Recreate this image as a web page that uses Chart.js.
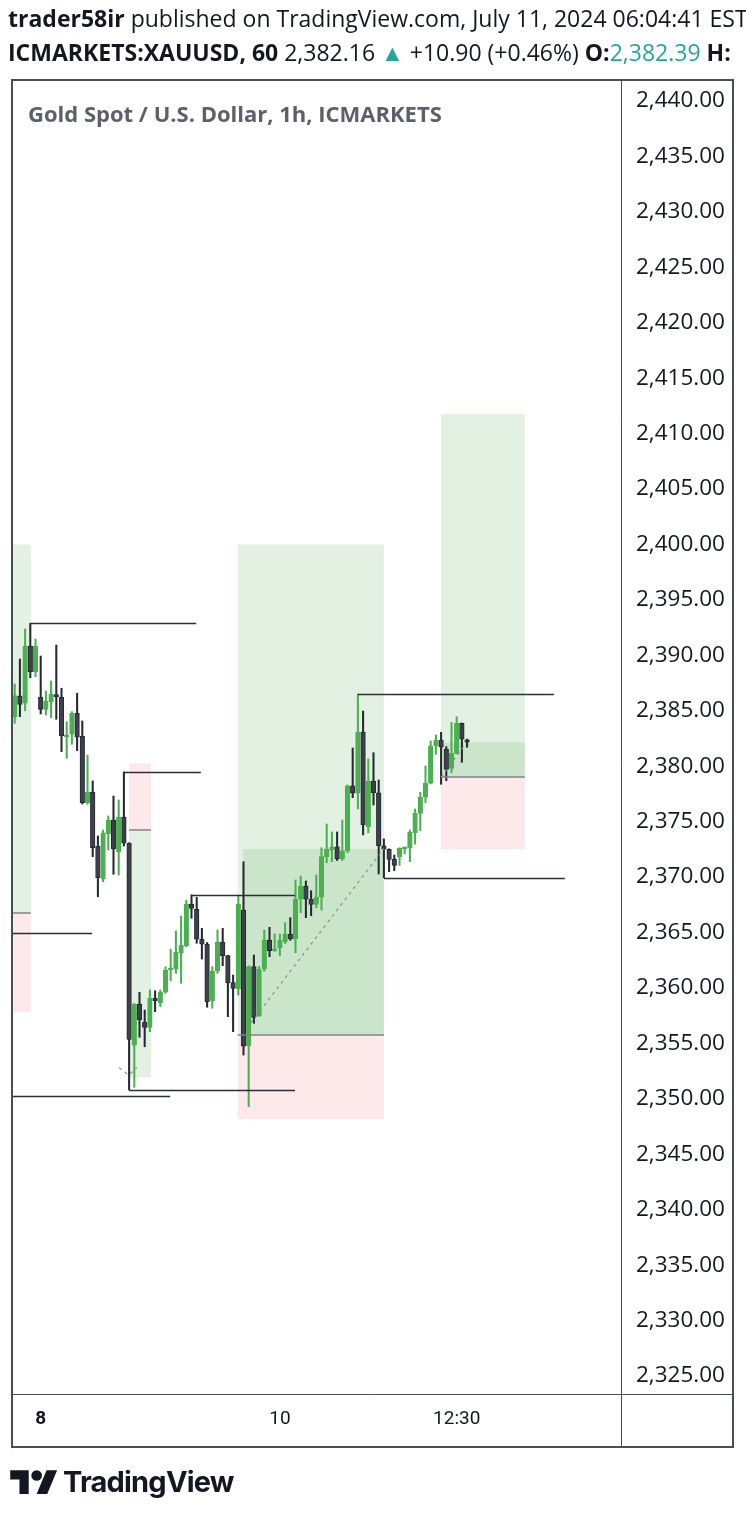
<!DOCTYPE html>
<html>
<head>
<meta charset="utf-8">
<script src="https://cdn.jsdelivr.net/npm/chart.js@4.4.1/dist/chart.umd.min.js"></script>
<style>
  body { margin: 0; background: #fff; width: 746px; height: 1517px; overflow: hidden; position: relative;
         font-family: 'Open Sans', sans-serif; color: #131722; }
  #wrap { position: absolute; left: 0; top: 0; width: 746px; height: 1517px; }
  .hdr { position: absolute; left: 8px; white-space: nowrap; font-size: 23px; line-height: 30px; }
  .up { color: #26a69a; }
  #title { position: absolute; left: 28px; top: 98px; font-size: 22px; line-height: 30px; font-weight: 700; color: #5d606b; white-space: nowrap; }
  #logo { position: absolute; left: 10px; top: 1465px; }
  #brand { position: absolute; left: 63px; top: 1464px; font-family: Inter, sans-serif; font-weight: 700;
           font-size: 29px; letter-spacing: -0.8px; color: #131722; }
</style>
</head>
<body>
<div id="wrap"><canvas id="chart"></canvas></div>
<div class="hdr" style="top:3px"><b>trader58ir</b> published on TradingView.com, July 11, 2024 06:04:41 EST</div>
<div class="hdr" style="top:37px"><b>ICMARKETS:XAUUSD, 60</b> 2,382.16 <span class="up">▲</span> +10.90 (+0.46%) <b>O:</b><span class="up">2,382.39</span> <b>H:</b></div>
<div id="title">Gold Spot / U.S. Dollar, 1h, ICMARKETS</div>
<svg id="logo" width="48" height="37" viewBox="0 0 36 28"><path fill="#131722" d="M14 22H7V11H0V4h14v18zM28 22h-8l7.5-18h8L28 22z"/><circle fill="#131722" cx="20" cy="8" r="4"/></svg>
<div id="brand">TradingView</div>

<script>
// ─── Candles (1h XAUUSD) ─────────────────────────
const opens = [
  2384.47, 2386.33, 2385.68, 2390.84, 2388.53, 2386.22, 2385.13, 2385.82, 2386.42, 2386.22,
  2382.66, 2382.88, 2384.77, 2382.70, 2376.71, 2377.65, 2372.80, 2369.85, 2373.89, 2375.15,
  2372.29, 2375.42, 2373.05, 2354.83, 2358.55, 2356.90, 2356.45, 2359.07, 2358.67, 2359.63,
  2361.62, 2361.71, 2363.13, 2363.81, 2367.57, 2367.09, 2364.39, 2363.94, 2358.85, 2361.53,
  2364.15, 2362.91, 2360.48, 2359.93, 2367.03, 2354.79, 2361.92, 2357.50, 2361.71, 2364.33,
  2363.36, 2363.63, 2364.17, 2364.87, 2364.42, 2368.02, 2369.20, 2368.00, 2367.54, 2368.20,
  2371.84, 2372.44, 2372.74, 2371.63, 2372.35, 2378.22, 2377.56, 2383.09, 2374.54, 2378.67,
  2377.61, 2372.83, 2372.51, 2371.60, 2371.84, 2372.56, 2372.65, 2374.00, 2375.75, 2377.20,
  2378.46, 2381.82, 2382.36, 2381.53, 2379.81, 2381.16, 2383.87, 2382.39
];
const highs = [
  2387.42, 2389.67, 2392.38, 2392.88, 2391.47, 2389.94, 2386.78, 2387.69, 2390.93, 2387.03,
  2384.01, 2384.92, 2386.58, 2384.08, 2381.01, 2378.67, 2373.71, 2374.25, 2375.51, 2377.31,
  2376.95, 2379.48, 2373.10, 2358.60, 2359.61, 2358.01, 2359.82, 2359.75, 2359.82, 2361.92,
  2363.49, 2365.14, 2366.49, 2367.93, 2368.40, 2368.18, 2365.38, 2364.10, 2361.92, 2365.23,
  2365.38, 2362.95, 2361.17, 2368.38, 2371.38, 2362.00, 2362.97, 2361.92, 2365.23, 2365.47,
  2364.87, 2364.87, 2365.89, 2366.34, 2369.74, 2370.10, 2369.65, 2368.77, 2370.19, 2372.65,
  2374.79, 2374.07, 2374.07, 2375.15, 2378.30, 2381.64, 2386.51, 2384.98, 2380.65, 2381.22,
  2378.76, 2373.44, 2372.55, 2371.99, 2372.65, 2372.69, 2374.25, 2376.14, 2377.65, 2380.02,
  2382.27, 2382.82, 2383.06, 2381.76, 2383.96, 2384.47, 2383.90, 2382.45
];
const lows = [
  2383.87, 2384.47, 2385.01, 2387.98, 2388.07, 2384.71, 2384.62, 2384.38, 2384.23, 2381.31,
  2380.71, 2381.98, 2381.40, 2376.59, 2376.57, 2371.84, 2368.23, 2369.58, 2372.44, 2370.25,
  2370.19, 2372.80, 2350.80, 2351.04, 2355.55, 2354.70, 2356.06, 2357.86, 2358.31, 2359.52,
  2360.65, 2361.32, 2360.42, 2363.72, 2366.28, 2364.03, 2362.61, 2358.26, 2358.17, 2361.32,
  2362.01, 2357.41, 2356.06, 2359.36, 2353.95, 2349.29, 2356.81, 2357.41, 2361.50, 2362.82,
  2363.30, 2362.91, 2364.00, 2364.30, 2363.18, 2366.79, 2366.34, 2366.52, 2367.24, 2367.03,
  2371.30, 2371.39, 2371.50, 2371.50, 2372.20, 2377.16, 2376.14, 2373.80, 2374.00, 2376.50,
  2370.28, 2369.95, 2370.49, 2370.58, 2371.06, 2372.08, 2371.39, 2372.98, 2374.18, 2376.71,
  2378.40, 2381.07, 2378.37, 2378.69, 2379.41, 2381.10, 2380.35, 2381.71
];
const closes = [
  2386.36, 2385.58, 2390.84, 2388.53, 2390.84, 2385.13, 2385.88, 2386.49, 2386.27, 2382.75,
  2382.73, 2384.80, 2382.61, 2376.71, 2377.65, 2372.65, 2369.94, 2374.00, 2375.15, 2372.56,
  2375.42, 2373.05, 2355.37, 2358.55, 2357.11, 2356.45, 2359.07, 2358.85, 2359.63, 2361.62,
  2361.71, 2363.22, 2363.85, 2367.57, 2367.18, 2364.39, 2363.94, 2358.76, 2361.53, 2364.15,
  2362.91, 2360.48, 2359.97, 2367.57, 2354.76, 2361.92, 2357.35, 2361.71, 2364.33, 2363.36,
  2363.51, 2364.33, 2364.87, 2364.42, 2368.02, 2369.20, 2368.00, 2367.54, 2368.20, 2371.84,
  2372.53, 2372.74, 2371.63, 2372.35, 2378.22, 2377.56, 2383.09, 2374.70, 2378.67, 2377.61,
  2372.83, 2372.51, 2371.60, 2371.06, 2372.60, 2372.65, 2374.07, 2375.75, 2377.20, 2378.46,
  2381.82, 2382.36, 2381.71, 2379.72, 2381.16, 2383.87, 2382.45, 2382.16
];

// ─── Axis ticks ──────────────────────────────────
const priceTicks = [2325, 2330, 2335, 2340, 2345, 2350, 2355, 2360, 2365, 2370, 2375, 2380,
                    2385, 2390, 2395, 2400, 2405, 2410, 2415, 2420, 2425, 2430, 2435, 2440];
const timeTickBars = [5, 51, 85];
const timeTickLabels = ['8', '10', '12:30'];

// ─── Position tools (bar index / price) ──────────
const boxStart = [-5, 22.0, 42.9, 82.0];
const boxEnd = [3.08, 26.2, 71.0, 98.1];
const boxEntry = [2366.73, 2374.25, 2355.73, 2379.00];
const boxTarget = [2400.0, 2351.94, 2400.0, 2411.77];
const boxStop = [2357.80, 2380.26, 2348.18, 2372.51];
const boxFillStart = [null, null, 43.9, 82.0];
const boxFillPrice = [null, null, 2372.53, 2382.16];

// ─── Horizontal levels ───────────────────────────
const levelPrice = [2392.88, 2379.48, 2364.96, 2350.25, 2350.80, 2368.40, 2386.51, 2369.95];
const levelFrom = [3, 21, -5, -5, 22, 34, 66, 71];
const levelTo = [34.9, 35.8, 14.9, 29.9, 53.9, 53.9, 103.7, 105.8];

// ─── Dashed trade paths ──────────────────────────
const pathBars = [[45.5, 71], [82, 86.7], [20.1, 21.9, 23.5]];
const pathPrices = [[2356.9, 2372.56], [2379.0, 2382.0], [2352.8, 2352.15, 2352.8]];

const UP = '#4caf50';
const DOWN = '#3d404b';
const DOWN_EDGE = '#262932';
const LIGHT_GREEN = '#e2f1e2';
const DARK_GREEN = '#cbe5ca';
const LIGHT_RED = '#fde8ea';
const FRAME = '#4a4d57';

const bars = opens.map((_, i) => i);
const isUp = i => closes[i] >= opens[i];

const overlays = {
  id: 'overlays',
  beforeDatasetsDraw(chart) {
    const { ctx, chartArea: a, scales: { x, y } } = chart;
    ctx.save();
    ctx.beginPath();
    ctx.rect(a.left, a.top, a.right - a.left, a.bottom - a.top);
    ctx.clip();
    boxStart.forEach((s, k) => {
      const x0 = x.getPixelForValue(s), x1 = x.getPixelForValue(boxEnd[k]);
      const yE = y.getPixelForValue(boxEntry[k]);
      const yT = y.getPixelForValue(boxTarget[k]);
      const yS = y.getPixelForValue(boxStop[k]);
      ctx.fillStyle = LIGHT_GREEN;
      ctx.fillRect(x0, Math.min(yE, yT), x1 - x0, Math.abs(yT - yE));
      ctx.fillStyle = LIGHT_RED;
      ctx.fillRect(x0, Math.min(yE, yS), x1 - x0, Math.abs(yS - yE));
      if (boxFillStart[k] !== null) {
        const f0 = x.getPixelForValue(boxFillStart[k]);
        const yF = y.getPixelForValue(boxFillPrice[k]);
        ctx.fillStyle = DARK_GREEN;
        ctx.fillRect(f0, Math.min(yE, yF), x1 - f0, Math.abs(yF - yE));
      }
    });
    ctx.restore();
  },
  afterDatasetsDraw(chart) {
    const { ctx, chartArea: a, scales: { x, y } } = chart;
    ctx.save();
    ctx.beginPath();
    ctx.rect(a.left, a.top, a.right - a.left, a.bottom - a.top);
    ctx.clip();
    // entry lines
    ctx.strokeStyle = '#80838d';
    ctx.lineWidth = 1.5;
    boxStart.forEach((s, k) => {
      const yE = Math.round(y.getPixelForValue(boxEntry[k]));
      ctx.beginPath();
      ctx.moveTo(x.getPixelForValue(s), yE);
      ctx.lineTo(x.getPixelForValue(boxEnd[k]), yE);
      ctx.stroke();
    });
    // horizontal levels
    ctx.strokeStyle = '#2a2e39';
    ctx.lineWidth = 1.3;
    levelPrice.forEach((p, k) => {
      const yy = Math.round(y.getPixelForValue(p)) + 0.5;
      ctx.beginPath();
      ctx.moveTo(x.getPixelForValue(levelFrom[k]), yy);
      ctx.lineTo(x.getPixelForValue(levelTo[k]), yy);
      ctx.stroke();
    });
    // dashed trade paths
    ctx.strokeStyle = '#8a8d96';
    ctx.lineWidth = 1.2;
    ctx.setLineDash([3, 4]);
    pathBars.forEach((xsArr, k) => {
      ctx.beginPath();
      xsArr.forEach((b, j) => {
        const px = x.getPixelForValue(b), py = y.getPixelForValue(pathPrices[k][j]);
        if (j === 0) ctx.moveTo(px, py); else ctx.lineTo(px, py);
      });
      ctx.stroke();
    });
    ctx.restore();
  },
  afterDraw(chart) {
    const { ctx, chartArea: a } = chart;
    ctx.save();
    ctx.strokeStyle = FRAME;
    ctx.lineWidth = 2;
    ctx.strokeRect(12, 80, 721, 1367);
    ctx.lineWidth = 1;
    ctx.beginPath();
    ctx.moveTo(Math.round(a.right) + 0.5, 80);
    ctx.lineTo(Math.round(a.right) + 0.5, 1447);
    ctx.moveTo(12, Math.round(a.bottom) + 0.5);
    ctx.lineTo(733, Math.round(a.bottom) + 0.5);
    ctx.stroke();
    ctx.restore();
  }
};

Chart.defaults.font.family = "'Open Sans', sans-serif";

new Chart(document.getElementById('chart'), {
  type: 'bar',
  data: {
    datasets: [
      {
        data: bars.map(i => ({ x: i, y: [lows[i], highs[i]] })),
        backgroundColor: bars.map(i => isUp(i) ? UP : DOWN_EDGE),
        barThickness: 1.4,
        grouped: false,
        order: 2,
      },
      {
        data: bars.map(i => ({ x: i, y: [Math.min(opens[i], closes[i]), Math.max(opens[i], closes[i])] })),
        backgroundColor: bars.map(i => isUp(i) ? UP : DOWN),
        borderColor: bars.map(i => isUp(i) ? UP : DOWN_EDGE),
        borderWidth: 1,
        borderSkipped: false,
        barThickness: 4.6,
        minBarLength: 2,
        grouped: false,
        order: 1,
      },
    ],
  },
  options: {
    responsive: true,
    maintainAspectRatio: false,
    animation: false,
    events: [],
    layout: { padding: { left: 12, top: 80, right: 13, bottom: 70 } },
    plugins: { legend: { display: false }, tooltip: { enabled: false } },
    scales: {
      x: {
        type: 'linear',
        min: -0.52,
        max: 116.6,
        offset: false,
        grid: { display: false, drawTicks: false },
        border: { display: false },
        afterFit: s => { s.height = 53; },
        afterBuildTicks: s => { s.ticks = timeTickBars.map(v => ({ value: v })); },
        ticks: {
          autoSkip: false,
          maxRotation: 0,
          padding: 14,
          color: '#131722',
          font: c => ({ family: 'Roboto, sans-serif', size: 19, weight: c.index === 0 ? 'bold' : 'normal' }),
          callback: (v, i) => timeTickLabels[i],
        },
      },
      y: {
        type: 'linear',
        position: 'right',
        min: 2323.38,
        max: 2441.89,
        grid: { display: false, drawTicks: false },
        border: { display: false },
        afterFit: s => { s.width = 112; },
        afterBuildTicks: s => { s.ticks = priceTicks.map(v => ({ value: v })); },
        ticks: {
          padding: 15,
          color: '#131722',
          font: { size: 22.5 },
          callback: v => v.toLocaleString('en-US', { minimumFractionDigits: 2, maximumFractionDigits: 2 }),
        },
      },
    },
  },
  plugins: [overlays],
});
</script>
</body>
</html>
